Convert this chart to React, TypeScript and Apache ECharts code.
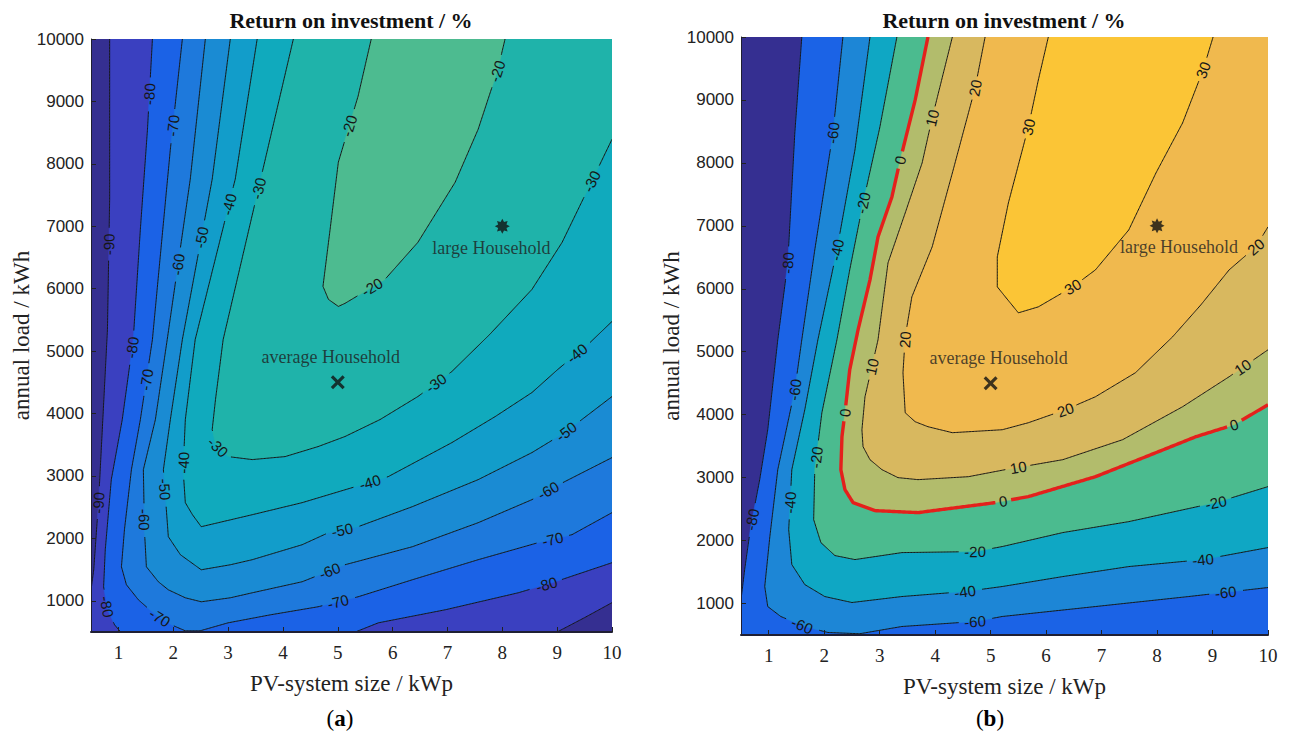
import React, { useEffect, useRef } from "react";
import * as echarts from "echarts";

// ---------- axes ----------
const xTickValues = [1, 2, 3, 4, 5, 6, 7, 8, 9, 10];
const yTickValues = [1000, 2000, 3000, 4000, 5000, 6000, 7000, 8000, 9000, 10000];
const xRange = [0.5, 10];
const yRange = [500, 10000];

// ---------- panel (a): contour lines [PV kWp, load kWh] ----------
const levelsA = [-90, -80, -70, -60, -50, -40, -30, -20];
const a_m90 = [
  [[0.84, 10000], [0.84, 7432], [0.8, 5347], [0.64, 2620], [0.55, 1497], [0.5, 1176]],
  [[9.0, 500], [9.5, 730], [10, 970]],
];
const a_m80 = [
  [[1.62, 10000], [1.53, 8555], [1.4, 6951], [1.27, 5186], [1.07, 3903], [0.87, 2941], [0.76, 1818], [0.73, 1225], [0.8, 856], [0.93, 615], [1.04, 500]],
  [[5.32, 500], [5.74, 647], [6.96, 856], [8.29, 1128], [8.91, 1289], [10, 1610]],
];
const a_m70 = [
  [[2.166, 10000], [1.947, 8234], [1.62, 5186], [1.4, 3903], [1.237, 3101], [1.11, 2139], [1.055, 1545], [1.146, 1257], [1.364, 1016], [1.674, 775], [1.965, 615], [2.22, 519], [2.49, 519], [3.0, 647], [3.77, 775], [4.64, 904], [5.37, 1064], [6.36, 1337], [7.56, 1658], [8.65, 1930], [9.27, 2059], [10, 2412]],
];
const a_m60 = [
  [[2.585, 10000], [2.31, 7754], [1.89, 5186], [1.674, 3903], [1.455, 3101], [1.474, 2139], [1.51, 1545], [1.728, 1305], [1.91, 1176], [2.22, 1048], [2.51, 984], [3.04, 1048], [3.44, 1128], [4.35, 1305], [5.13, 1577], [6.36, 1866], [7.56, 2251], [8.54, 2620], [8.96, 2829], [10, 3294]],
];
const a_m50 = [
  [[3.04, 10000], [2.71, 7754], [2.166, 5186], [1.947, 3903], [1.82, 3101], [1.874, 2460], [1.91, 2027], [2.13, 1738], [2.51, 1497], [3.04, 1577], [3.44, 1658], [4.35, 1898], [4.83, 2091], [5.37, 2187], [6.36, 2508], [7.56, 2941], [8.54, 3374], [9.14, 3695], [10, 4272]],
];
const a_m40 = [
  [[3.53, 10000], [3.13, 7754], [2.4, 5186], [2.22, 3903], [2.18, 3101], [2.22, 2572], [2.35, 2379], [2.51, 2187], [3.44, 2379], [4.35, 2572], [5.26, 2812], [5.92, 2989], [7.08, 3534], [7.87, 3951], [8.54, 4336], [9.01, 4705], [9.6, 5138], [10, 5475]],
];
const a_m30 = [
  [[4.19, 10000], [3.55, 7593], [2.91, 5186], [2.77, 4224], [2.71, 3743], [2.77, 3502], [3.0, 3310], [3.44, 3262], [4.04, 3310], [4.64, 3470], [5.13, 3631], [5.77, 3903], [6.46, 4272], [7.08, 4673], [7.77, 5267], [8.54, 5988], [9.09, 6742], [9.56, 7593], [10, 8394]],
];
const a_m20 = [
  [[5.61, 10000], [5.37, 9084], [5.01, 8026], [4.86, 6951], [4.73, 6037], [4.83, 5828], [5.01, 5716], [5.13, 5764], [5.86, 6149], [6.46, 6742], [7.14, 7705], [7.56, 8555], [7.92, 9517], [8.05, 10000]],
];
const labelsA = [
  [1.62, 9116, -80], [2.07, 8603, -70], [2.86, 7384, -40], [3.62, 7593, -30], [2.4, 6839, -50], [2.07, 6389, -60], [0.854, 6710, -90],
  [1.255, 5058, -80], [1.49, 4545, -70], [2.82, 3470, -30], [2.13, 3214, -40], [1.765, 2780, -50], [1.4, 2299, -60], [0.6, 2572, -90],
  [0.78, 904, -80], [1.73, 695, -70], [5.01, 968, -70], [4.83, 1529, -60], [5.08, 2139, -50], [5.59, 2893, -40], [6.81, 4465, -30],
  [5.41, 8555, -20], [5.65, 5988, -20], [7.9, 9485, -20], [9.74, 7673, -30], [9.38, 4946, -40], [9.14, 3743, -50], [8.83, 2780, -60],
  [8.92, 1978, -70], [8.78, 1337, -80],
];

// ---------- panel (b) ----------
const levelsB = [-80, -60, -40, -20, 0, 10, 20, 30];
const b_m80 = [
  [[1.596, 10000], [1.47, 8475], [1.343, 6412], [1.163, 5190], [0.982, 3761], [0.837, 2968], [0.675, 2222], [0.566, 1540], [0.5, 1063]],
];
const b_m60 = [
  [[2.337, 10000], [2.157, 8475], [1.83, 6618], [1.596, 5190], [1.47, 4396], [1.163, 3127], [1.02, 2063], [0.928, 1270], [0.982, 952], [1.217, 794], [1.65, 635], [2.066, 540], [2.64, 520], [3.4, 635], [4.72, 714], [5.21, 794], [6.89, 952], [8.57, 1111], [10, 1254]],
];
const b_m40 = [
  [[2.825, 10000], [2.554, 8205], [2.229, 6618], [1.886, 5190], [1.65, 4079], [1.416, 3127], [1.36, 2174], [1.416, 1619], [1.65, 1301], [2.01, 1111], [2.5, 1016], [3.4, 1111], [4.535, 1190], [5.21, 1270], [6.3, 1428], [7.49, 1587], [8.83, 1698], [10, 1889]],
];
const b_m20 = [
  [[3.31, 10000], [3.0, 8554], [2.7, 7364], [2.46, 6301], [2.229, 5190], [1.958, 4031], [1.83, 3127], [1.81, 2333], [1.94, 1968], [2.193, 1762], [2.554, 1698], [3.4, 1809], [4.72, 1825], [5.21, 1905], [6.3, 2127], [7.49, 2301], [9.06, 2603], [10, 2857]],
];
const b_0 = [
  [[3.87, 10000], [3.64, 9000], [3.37, 8046], [3.22, 7459], [2.97, 6824], [2.825, 6142], [2.61, 5348], [2.46, 4714], [2.374, 4031], [2.32, 3650], [2.3, 3127], [2.374, 2809], [2.52, 2603], [2.916, 2476], [3.69, 2444], [5.085, 2603], [5.68, 2698], [6.89, 3015], [7.8, 3333], [8.7, 3650], [9.39, 3841], [10, 4158]],
];
const b_10 = [
  [[4.31, 10000], [3.946, 8713], [3.765, 7999], [3.46, 7205], [3.15, 6412], [2.97, 5190], [2.86, 4761], [2.735, 4285], [2.68, 3761], [2.7, 3492], [2.825, 3285], [3.04, 3127], [3.33, 3000], [3.69, 2968], [4.6, 3015], [5.265, 3127], [6.3, 3285], [7.38, 3603], [8.46, 4126], [9.3, 4603], [10, 5031]],
];
const b_20 = [
  [[4.9, 10000], [4.72, 9189], [4.31, 7840], [3.946, 6666], [3.58, 5872], [3.46, 5237], [3.42, 4666], [3.46, 4031], [3.64, 3888], [3.87, 3809], [4.31, 3714], [5.21, 3761], [5.68, 3872], [6.35, 4079], [6.89, 4285], [7.61, 4666], [8.28, 5237], [8.79, 5745], [9.3, 6301], [9.78, 6666], [10, 6983]],
];
const b_30 = [
  [[6.04, 10000], [5.86, 9317], [5.68, 8570], [5.32, 7364], [5.12, 6507], [5.12, 6031], [5.265, 5872], [5.5, 5618], [5.86, 5713], [6.48, 6031], [6.89, 6301], [7.49, 6935], [7.98, 7840], [8.46, 8634], [8.83, 9475], [9.01, 10000]],
];
const labelsB = [
  [1.343, 6412, -80], [0.71, 2333, -80],
  [2.157, 8475, -60], [1.47, 4396, -60], [1.596, 635, -60], [4.72, 698, -60], [9.24, 1143, -60],
  [2.229, 6618, -40], [1.416, 2603, -40], [4.54, 1190, -40], [8.83, 1698, -40],
  [2.7, 7364, -20], [1.92, 3317, -20], [4.72, 1825, -20], [9.06, 2603, -20],
  [3.37, 8046, 0], [2.374, 4031, 0], [5.23, 2603, 0], [9.39, 3841, 0],
  [3.946, 8713, 10], [2.86, 4761, 10], [5.5, 3158, 10], [9.55, 4745, 10],
  [4.72, 9189, 20], [3.51, 5190, 20], [6.35, 4079, 20], [9.78, 6666, 20],
  [5.68, 8570, 30], [6.48, 6031, 30], [8.83, 9475, 30],
];

// ---------- households ----------
const householdNames = ["average Household", "large Household"];
const householdPV = [5, 8];
const householdLoad = [4500, 7000];

// ---------- styles ----------
const colorsA = ["#352f91", "#3a40c0", "#1b62e6", "#1e79dc", "#1a8bd3", "#129dca", "#10aabd", "#1fb3aa", "#4dbb90"];
const colorsB = ["#352f91", "#1b63e6", "#1d86d6", "#0fa7c4", "#4bbb8f", "#b2bc6c", "#d8b85f", "#f0b94e", "#fbc536"];
const SERIF = '"Liberation Serif", "DejaVu Serif", serif';
const SANS = '"Liberation Sans", Arial, sans-serif';

function ring(pieces: number[][][], x0: number, x1: number, y0: number, y1: number) {
  const W = x1 - x0, H = y1 - y0;
  const tOf = (p: number[]) => {
    const [x, y] = p;
    if (Math.abs(y - y0) <= 1e-6 * H) return (x - x0) / W;
    if (Math.abs(x - x1) <= 1e-6 * W) return 1 + (y - y0) / H;
    if (Math.abs(y - y1) <= 1e-6 * H) return 2 + (x1 - x) / W;
    if (Math.abs(x - x0) <= 1e-6 * W) return 3 + (y1 - y) / H;
    return NaN;
  };
  const corners = [[x0, y0], [x1, y0], [x1, y1], [x0, y1]];
  const out: number[][] = [];
  for (let i = 0; i < pieces.length; i++) {
    const pc = pieces[i];
    out.push(...pc);
    const e = pc[pc.length - 1];
    const s = pieces[(i + 1) % pieces.length][0];
    const te = tOf(e);
    let ts = tOf(s);
    if (isNaN(te) || isNaN(ts)) continue;
    if (ts <= te) ts += 4;
    for (let c = Math.floor(te) + 1; c < ts; c++) out.push(corners[c % 4]);
  }
  return out;
}

function densify(pts: number[][], step: number) {
  const out: number[][] = [];
  for (let i = 0; i < pts.length - 1; i++) {
    const a = pts[i], b = pts[i + 1];
    const d = Math.hypot(b[0] - a[0], b[1] - a[1]);
    const n = Math.max(1, Math.ceil(d / step));
    for (let k = 0; k < n; k++) out.push([a[0] + ((b[0] - a[0]) * k) / n, a[1] + ((b[1] - a[1]) * k) / n]);
  }
  out.push(pts[pts.length - 1]);
  return out;
}

function nearest(q: number[], pieces: number[][][]) {
  let best = { d: Infinity, x: q[0], y: q[1], ang: 0 };
  pieces.forEach((pc) => {
    for (let i = 0; i < pc.length - 1; i++) {
      const a = pc[i], b = pc[i + 1];
      const dx = b[0] - a[0], dy = b[1] - a[1];
      const L = dx * dx + dy * dy || 1;
      let t = ((q[0] - a[0]) * dx + (q[1] - a[1]) * dy) / L;
      t = Math.max(0, Math.min(1, t));
      const px = a[0] + t * dx, py = a[1] + t * dy;
      const d = Math.hypot(q[0] - px, q[1] - py);
      if (d < best.d) best = { d, x: px, y: py, ang: Math.atan2(dy, dx) };
    }
  });
  return best;
}

function makeRender(levels: number[], contours: number[][][][], labels: number[][], colors: string[], redLevel: number | null) {
  return (_params: any, api: any) => {
    const P = (p: number[]) => api.coord(p);
    const [x0, x1] = xRange;
    const [y0, y1] = yRange;
    const tl = P([x0, y1]);
    const br = P([x1, y0]);
    const kids: any[] = [];
    kids.push({ type: "rect", shape: { x: tl[0], y: tl[1], width: br[0] - tl[0], height: br[1] - tl[1] }, style: { fill: colors[0] } });
    contours.forEach((pieces, i) => {
      kids.push({
        type: "polygon",
        shape: { points: ring(pieces, x0, x1, y0, y1).map(P) },
        style: { fill: colors[i + 1], stroke: colors[i + 1], lineWidth: 0.5 },
      });
    });
    const placed = labels.map(([lx, ly, lv]) => {
      const li = levels.indexOf(lv);
      const pxPieces = contours[li].map((pc) => pc.map(P));
      const n = nearest(P([lx, ly]), pxPieces);
      return { level: lv, x: n.x, y: n.y, ang: n.ang, text: String(lv) };
    });
    contours.forEach((pieces, i) => {
      const lv = levels[i];
      const cuts = placed.filter((p) => p.level === lv);
      const red = lv === redLevel;
      pieces.forEach((pc) => {
        const pts = densify(pc.map(P), 1.5);
        let run: number[][] = [];
        const flush = () => {
          if (run.length > 1)
            kids.push({
              type: "polyline",
              shape: { points: run },
              style: { stroke: red ? "#e4201c" : "#161616", lineWidth: red ? 3.4 : 1, fill: "none" },
            });
          run = [];
        };
        pts.forEach((p) => {
          const inside = cuts.some((c) => {
            const r = c.text.length * 4.4 + 3;
            return (p[0] - c.x) ** 2 + (p[1] - c.y) ** 2 < r * r;
          });
          if (inside) flush();
          else run.push(p);
        });
        flush();
      });
    });
    placed.forEach((p) => {
      let th = p.ang;
      if (th > Math.PI / 2) th -= Math.PI;
      if (th <= -Math.PI / 2) th += Math.PI;
      kids.push({
        type: "text",
        x: p.x,
        y: p.y,
        rotation: -th,
        style: { text: p.text, font: `15px ${SANS}`, fill: "#161616", align: "center", verticalAlign: "middle" },
      });
    });
    return { type: "group", children: kids };
  };
}

const crossPath = "path://M0,1.6L1.6,0L5,3.4L8.4,0L10,1.6L6.6,5L10,8.4L8.4,10L5,6.6L1.6,10L0,8.4L3.4,5Z";
const starPath =
  "path://" +
  Array.from({ length: 16 }, (_, k) => {
    const r = k % 2 ? 6 : 10;
    const a = (k * Math.PI) / 8 - Math.PI / 2;
    return (k ? "L" : "M") + (10 + r * Math.cos(a)).toFixed(2) + "," + (10 + r * Math.sin(a)).toFixed(2);
  }).join("") +
  "Z";

function householdSeries(gridIdx: number, offsets: number[][]) {
  return {
    type: "scatter",
    xAxisIndex: gridIdx,
    yAxisIndex: gridIdx,
    z: 5,
    silent: true,
    data: householdNames.map((name, i) => ({
      name,
      value: [householdPV[i], householdLoad[i]],
      symbol: i === 0 ? crossPath : starPath,
      symbolSize: i === 0 ? 14 : 15,
      label: {
        show: true,
        position: i === 0 ? "top" : "bottom",
        offset: offsets[i],
        formatter: "{b}",
        fontFamily: SERIF,
        fontSize: 18,
        color: "#1e1e1e",
      },
    })),
    itemStyle: { color: "#111" },
  };
}

function xAxisCfg(gridIndex: number) {
  return {
    gridIndex,
    type: "value",
    min: xRange[0],
    max: xRange[1],
    z: 10,
    axisLine: { show: true, onZero: false, lineStyle: { color: "#1f1f33", width: 2 } },
    axisTick: { show: true, inside: true, length: 5, customValues: xTickValues, lineStyle: { color: "#222", width: 1 } },
    axisLabel: { customValues: xTickValues, fontFamily: SERIF, fontSize: 19, color: "#222", margin: 11 },
    splitLine: { show: false },
    name: "PV-system size / kWp",
    nameLocation: "middle",
    nameGap: 40,
    nameTextStyle: { fontFamily: SERIF, fontSize: 23, color: "#222" },
  };
}

function yAxisCfg(gridIndex: number, nameGap: number) {
  return {
    gridIndex,
    type: "value",
    min: yRange[0],
    max: yRange[1],
    z: 10,
    axisLine: { show: true, onZero: false, lineStyle: { color: "#1f1f33", width: 1 } },
    axisTick: { show: true, inside: true, length: 5, customValues: yTickValues, lineStyle: { color: "#222", width: 1 } },
    axisLabel: { customValues: yTickValues, formatter: (v: number) => String(v), fontFamily: SANS, fontSize: 17, color: "#222", margin: 7 },
    splitLine: { show: false },
    name: "annual load / kWh",
    nameLocation: "middle",
    nameGap,
    nameTextStyle: { fontFamily: SERIF, fontSize: 23, color: "#222" },
  };
}

export default function App() {
  const ref = useRef<HTMLDivElement>(null);
  useEffect(() => {
    if (!ref.current) return;
    const chart = echarts.init(ref.current, undefined, { renderer: "svg" });
    const contoursA = [a_m90, a_m80, a_m70, a_m60, a_m50, a_m40, a_m30, a_m20];
    const contoursB = [b_m80, b_m60, b_m40, b_m20, b_0, b_10, b_20, b_30];
    const sub = (letter: string, x: number) => ({
      type: "text",
      x,
      y: 718,
      style: {
        text: `{r|(}{b|${letter}}{r|)}`,
        align: "center",
        verticalAlign: "middle",
        rich: {
          r: { fontFamily: SERIF, fontSize: 23, fontWeight: "normal", color: "#111" },
          b: { fontFamily: SERIF, fontSize: 23, fontWeight: "bold", color: "#111" },
        },
      },
    });
    chart.setOption({
      animation: false,
      backgroundColor: "#ffffff",
      grid: [
        { left: 91, top: 39, width: 521, height: 593 },
        { left: 741, top: 37, width: 527, height: 598 },
      ],
      xAxis: [xAxisCfg(0), xAxisCfg(1)],
      yAxis: [yAxisCfg(0, 57), yAxisCfg(1, 58)],
      graphic: [
        { type: "text", x: 351, y: 20, style: { text: "Return on investment / %", font: `bold 22px ${SERIF}`, fill: "#111", align: "center", verticalAlign: "middle" } },
        { type: "text", x: 1004, y: 20, style: { text: "Return on investment / %", font: `bold 22px ${SERIF}`, fill: "#111", align: "center", verticalAlign: "middle" } },
        sub("a", 340),
        sub("b", 990),
      ],
      series: [
        {
          type: "custom",
          xAxisIndex: 0,
          yAxisIndex: 0,
          coordinateSystem: "cartesian2d",
          clip: true,
          silent: true,
          data: [[5, 5000]],
          encode: { x: 0, y: 1 },
          renderItem: makeRender(levelsA, contoursA, labelsA, colorsA, null),
        },
        {
          type: "custom",
          xAxisIndex: 1,
          yAxisIndex: 1,
          coordinateSystem: "cartesian2d",
          clip: true,
          silent: true,
          data: [[5, 5000]],
          encode: { x: 0, y: 1 },
          renderItem: makeRender(levelsB, contoursB, labelsB, colorsB, 0),
        },
        householdSeries(0, [[-7, -4], [-11, 0]]),
        householdSeries(1, [[8, -4], [22, 0]]),
      ],
    });
    return () => chart.dispose();
  }, []);
  return <div ref={ref} style={{ position: "absolute", left: 0, top: 0, width: 1292, height: 740, background: "#fff" }} />;
}
